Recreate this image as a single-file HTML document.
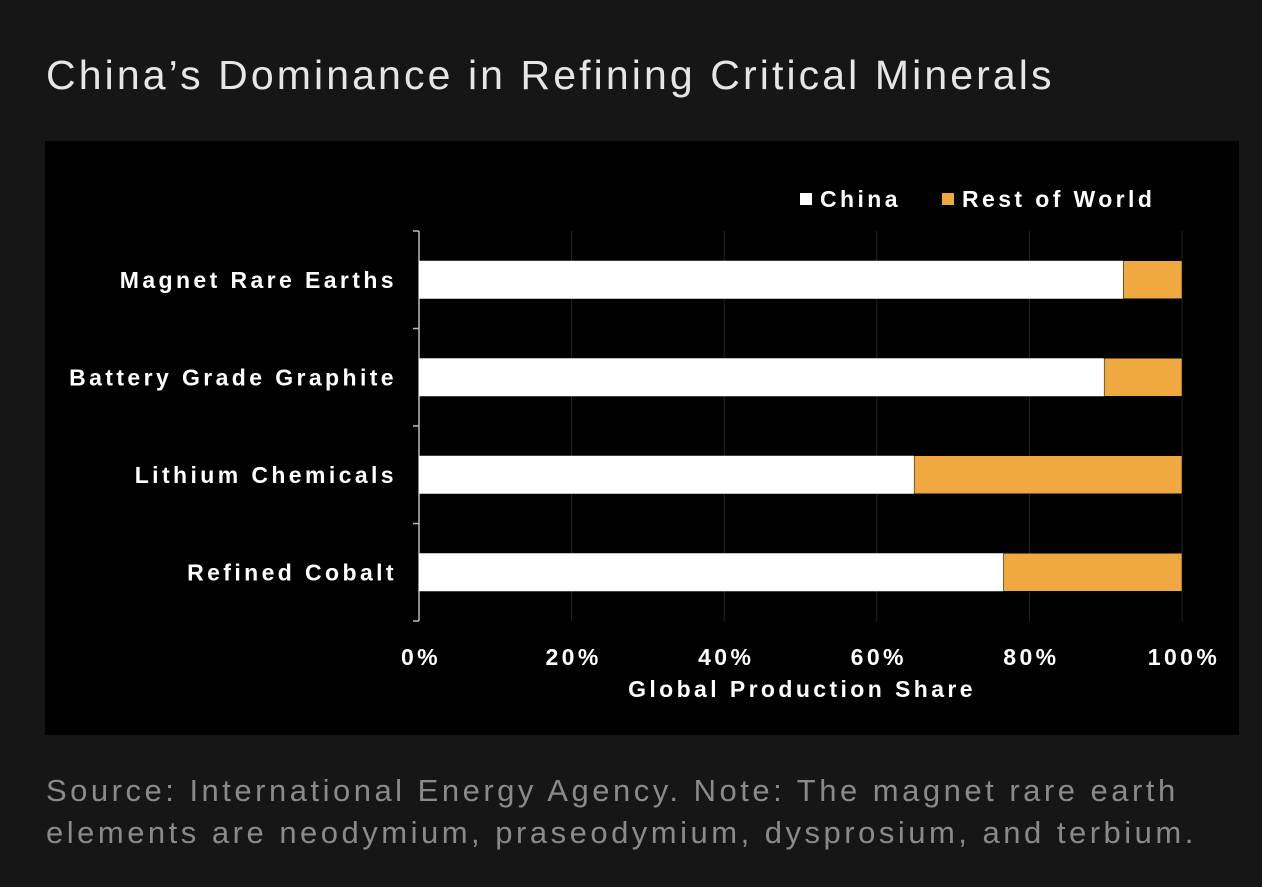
<!DOCTYPE html>
<html><head><meta charset="utf-8"><style>
body{margin:0;width:1262px;height:887px;background:#161616;overflow:hidden;font-family:"Liberation Sans",sans-serif}
#title{position:absolute;left:46px;top:52px;font-size:41px;color:#e6e6e6;letter-spacing:3.1px}
#panel{position:absolute;left:45px;top:141px;width:1194px;height:594px;background:#000}
#source{position:absolute;left:46px;top:770px;font-size:31px;line-height:42px;color:#8a8a8a;letter-spacing:3.5px;white-space:nowrap}
svg text{letter-spacing:3.4px}
</style></head><body>
<div id="title">China’s Dominance in Refining Critical Minerals</div>
<div id="panel"></div>
<svg id="chart" width="1262" height="887" style="position:absolute;left:0;top:0" font-family="Liberation Sans, sans-serif" font-weight="bold"></svg>
<div id="source">Source: International Energy Agency. Note: The magnet rare earth<br>elements are neodymium, praseodymium, dysprosium, and terbium.</div>
<script>
const categories=["Magnet Rare Earths","Battery Grade Graphite","Lithium Chemicals","Refined Cobalt"];
const chinaShare=[92.3,89.8,64.9,76.6];
const restShare=[7.7,10.2,35.1,23.4];
const xTicks=[0,20,40,60,80,100];
const NS="http://www.w3.org/2000/svg";
const svg=document.getElementById('chart');
const x0=419,x1=1182,yTop=231,band=97.5;
const xs=v=>x0+(x1-x0)*v/100;
const yc=i=>yTop+band*(i+0.5);
function mk(t,a,p){const e=document.createElementNS(NS,t);for(const k in a)e.setAttribute(k,a[k]);(p||svg).appendChild(e);return e;}
xTicks.forEach(t=>{if(t>0){const g=mk('line',{x1:xs(t),x2:xs(t),y1:yTop,y2:yTop+band*4,stroke:'#262626','stroke-width':1});

}
const l=mk('text',{x:xs(t)+2,y:665,fill:'#fff','font-size':23,'text-anchor':'middle'});l.textContent=t+'%';

});
const ax=mk('line',{x1:x0,x2:x0,y1:yTop,y2:yTop+band*4,stroke:'#bbb','stroke-width':1.5});


for(let i=0;i<=categories.length;i++){const t=mk('line',{x1:x0-6,x2:x0,y1:yTop+band*i,y2:yTop+band*i,stroke:'#bbb','stroke-width':1.5});

}
categories.forEach((c,i)=>{const y=yc(i);
const b=mk('rect',{x:x0,y:y-19,width:xs(chinaShare[i])-x0,height:38,fill:'#fff'});


const r=mk('rect',{x:xs(chinaShare[i]),y:y-19,width:xs(chinaShare[i]+restShare[i])-xs(chinaShare[i]),height:38,fill:'#f0a840',stroke:'#000','stroke-width':0.5});


const l=mk('text',{x:397,y:y+8,fill:'#fff','font-size':23,'text-anchor':'end'});l.textContent=c;

});
const xt=mk('text',{x:802,y:697,fill:'#fff','font-size':23,'text-anchor':'middle'});xt.textContent='Global Production Share';


const g1=mk('rect',{x:800,y:193,width:12,height:12,fill:'#fff'});


const t1=mk('text',{x:820,y:207,fill:'#fff','font-size':23});t1.textContent='China';


const g2=mk('rect',{x:942,y:193,width:12,height:12,fill:'#f0a840'});


const t2=mk('text',{x:962,y:207,fill:'#fff','font-size':23});t2.textContent='Rest of World';


</script>
</body></html>
